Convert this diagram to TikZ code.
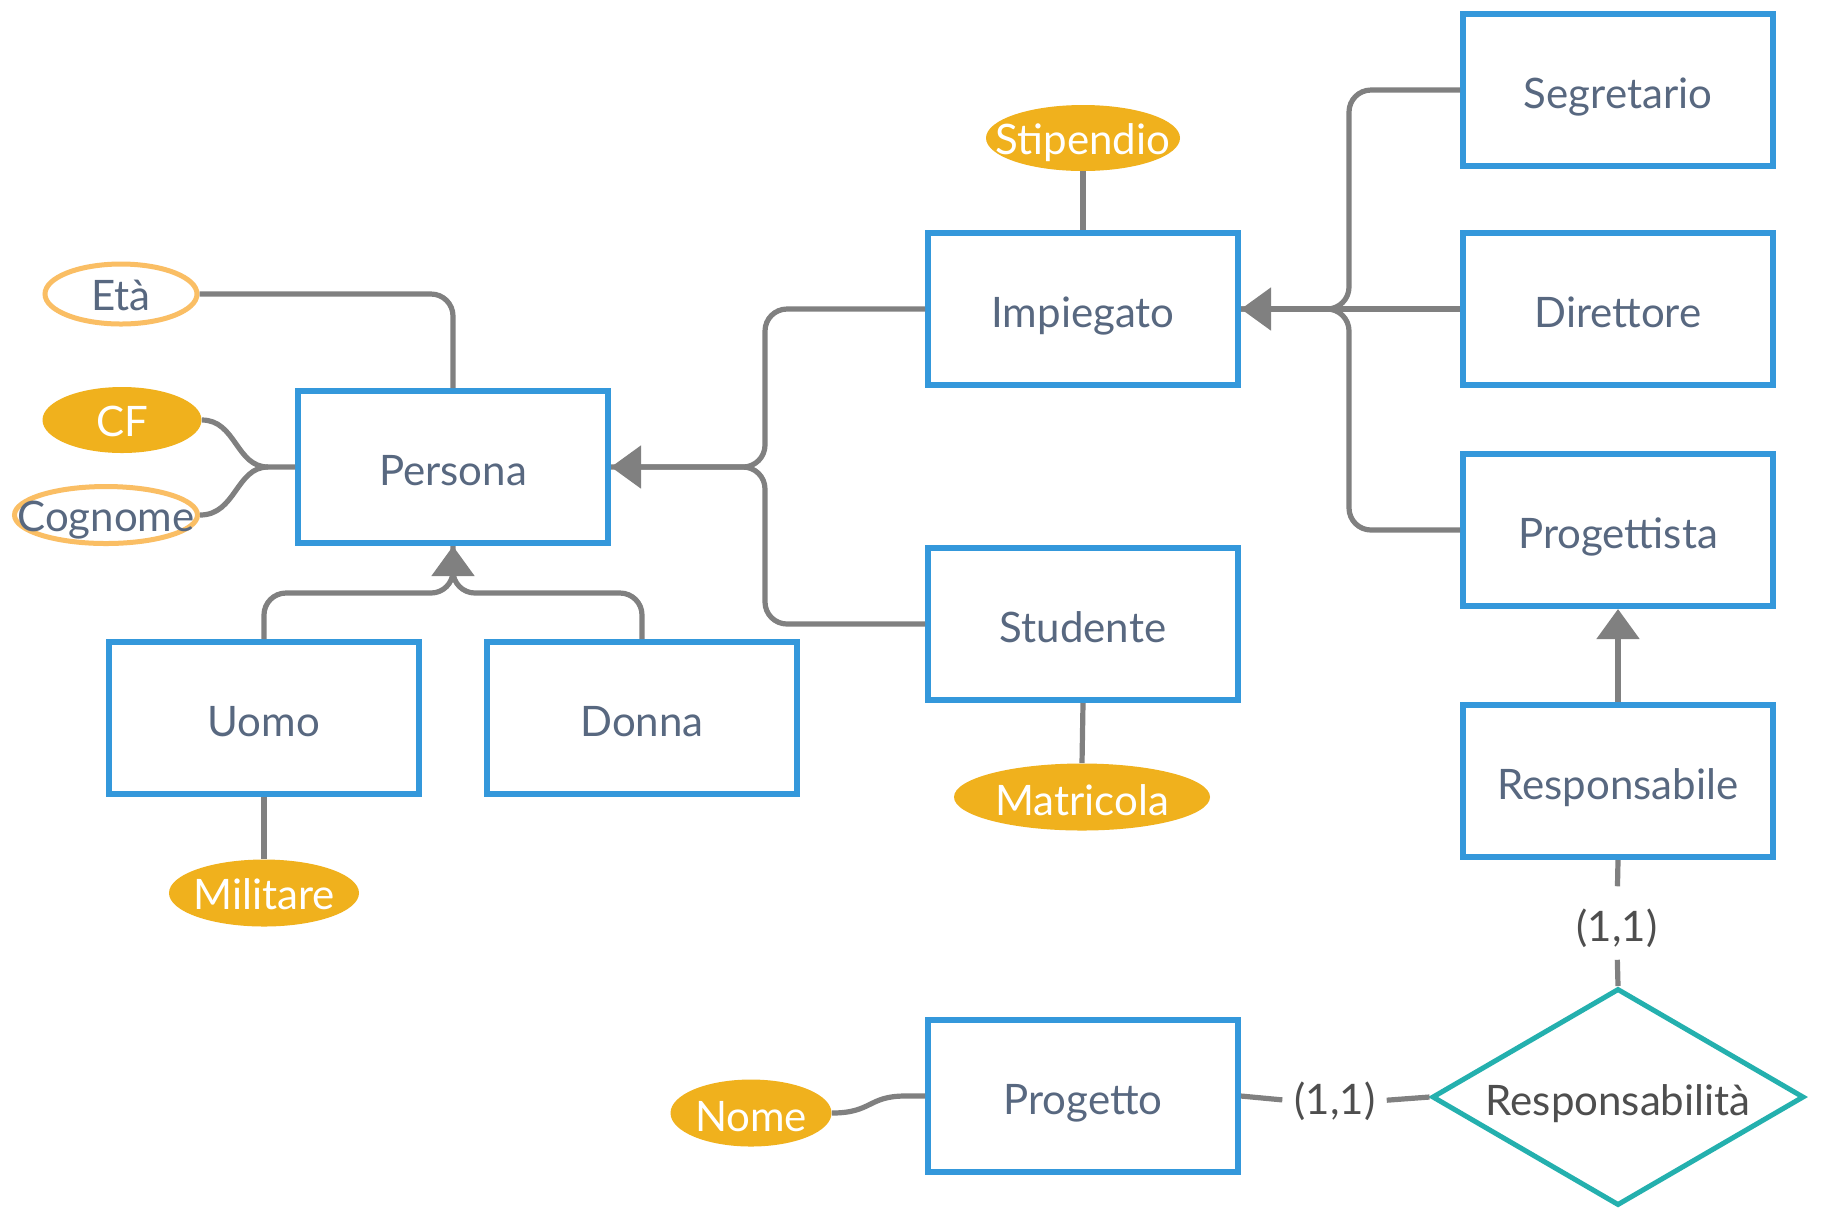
\documentclass[tikz,border=0pt]{standalone}
\usepackage{fontspec}
\setmainfont{Lato}
\usetikzlibrary{shapes.geometric,arrows.meta}
\definecolor{boxblue}{RGB}{52,152,219}
\definecolor{txtslate}{RGB}{88,104,128}
\definecolor{attrfill}{RGB}{240,177,29}
\definecolor{attrline}{RGB}{250,190,100}
\definecolor{relteal}{RGB}{36,176,174}
\definecolor{conngray}{RGB}{128,128,128}
\definecolor{darktxt}{RGB}{78,78,78}
\begin{document}
\begin{tikzpicture}[x=0.5pt,y=-0.5pt,
  lbl/.style={font=\fontsize{21pt}{25pt}\selectfont, inner sep=0pt},
  fixh/.style={text height=17pt, text depth=0.5pt},
  ent/.style={lbl, text height=19pt, text depth=0.5pt, draw=boxblue, line width=3pt, rectangle, minimum width=155pt, minimum height=76pt, text=txtslate},
  attrF/.style={ellipse, fill=attrfill, inner sep=0pt},
  attrO/.style={ellipse, draw=attrline, line width=2.5pt, fill=white, inner sep=0pt},
  wtxt/.style={lbl, fixh, text=white},
  stxt/.style={lbl, fixh, text=txtslate},
  conn/.style={draw=conngray, line width=2.6pt},
  isa/.style={conn, -{Triangle[length=15pt,width=21pt]}},
  card/.style={lbl, text=darktxt},
  rc/.style={rounded corners=11pt}
]
\clip (0,0) rectangle (1823,1207);
\fill[white] (0,0) rectangle (1823,1207);

% entities
\node[ent] (Segretario)   at (1618,90)   {Segretario};
\node[ent] (Impiegato)    at (1083,309)  {Impiegato};
\node[ent] (Direttore)    at (1618,309)  {Direttore};
\node[ent] (Persona)      at (453,467)   {Persona};
\node[ent] (Progettista)  at (1618,530)  {Progettista};
\node[ent] (Studente)     at (1083,624)  {Studente};
\node[ent] (Uomo)         at (264,718)   {Uomo};
\node[ent] (Donna)        at (642,718)   {Donna};
\node[ent] (Responsabile) at (1618,781)  {Responsabile};
\node[ent] (Progetto)     at (1083,1096) {Progetto};

% attributes
\node[attrF, minimum width=97pt, minimum height=33pt] (Stipendio) at (1083,138) {};
\node[wtxt] (StipendioT) at (Stipendio) {Stipendio};
\node[attrO, minimum width=76pt, minimum height=30pt] (Eta) at (121,294) {};
\node[stxt] (EtaT) at (Eta) {Età};
\node[attrF, minimum width=79.5pt, minimum height=33pt] (CF) at (122,420) {};
\node[wtxt] (CFT) at (CF) {CF};
\node[attrO, minimum width=91.5pt, minimum height=28.5pt] (Cognome) at (106,515) {};
\node[stxt] (CognomeT) at (Cognome) {Cognome};
\node[attrF, minimum width=95pt, minimum height=33.5pt] (Militare) at (264,893) {};
\node[wtxt] (MilitareT) at (Militare) {Militare};
\node[attrF, minimum width=128pt, minimum height=33.5pt] (Matricola) at (1082,797) {};
\node[wtxt] (MatricolaT) at ([yshift=-1pt]Matricola.center) {Matricola};
\node[attrF, minimum width=80.5pt, minimum height=33.5pt] (Nome) at (751,1113) {};
\node[wtxt] (NomeT) at ([yshift=-1pt]Nome.center) {Nome};

% relationship
\node[diamond, draw=relteal, line width=2.5pt, minimum width=186pt, minimum height=108.5pt, inner sep=0pt] (Resp) at (1618,1097) {};
\node[card, fixh] (RespT) at ([yshift=-1pt]Resp.center) {Responsabilità};

% cardinalities
\node[card] (c1) at (1617,928) {(1,1)};
\node[card] (c2) at (1335,1101) {(1,1)};

% junctions
\coordinate (jI) at (1349,309);
\coordinate (jP) at (765,467);
\coordinate (jU) at (453,593);
\coordinate (jC) at (268,467);
\coordinate (jN) at (905,1096);

% generalizations
\draw[conn, rc] (Segretario.west) -| (jI) -- (Impiegato.east);
\draw[conn, rc] (Progettista.west) -| (jI) -- (Impiegato.east);
\draw[isa] (Direttore.west) -- (Impiegato.east);

\draw[conn, rc] (Studente.west) -| (jP) -- (Persona.east);
\draw[isa, rc] (Impiegato.west) -| (jP) -- (Persona.east);

\draw[conn, rc] (Donna.north) |- (jU) -- (Persona.south);
\draw[isa, rc] (Uomo.north) |- (jU) -- (Persona.south);

\draw[isa] (Responsabile.north) -- (Progettista.south);

% attribute links
\draw[conn, rc] (Eta.east) -| (Persona.north);
\draw[conn] (CF.east) .. controls (236,420) and (236,467) .. (jC) -- (Persona.west);
\draw[conn] (Cognome.east) .. controls (236,515) and (236,467) .. (jC);
\draw[conn] (Stipendio.south) -- (Impiegato.north);
\draw[conn] (Studente.south) -- (Matricola.north);
\draw[conn] (Uomo.south) -- (Militare.north);
\draw[conn] (Nome.east) .. controls (872,1113) and (868,1096) .. (jN) -- (Progetto.west);

% relationship links
\draw[conn, shorten >=11pt] (Responsabile.south) -- (c1.north);
\draw[conn, shorten <=6pt] (c1.south) -- (Resp.north);
\draw[conn, shorten >=6pt] (Progetto.east) -- (c2.west);
\draw[conn, shorten <=5.5pt] (c2.east) -- (Resp.west);
\end{tikzpicture}
\end{document}
